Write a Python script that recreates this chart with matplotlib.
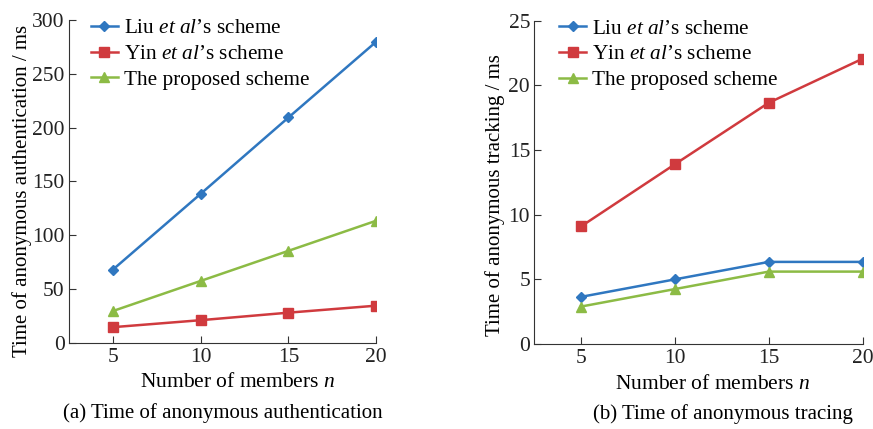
import numpy as np
import matplotlib.pyplot as plt

# Schrift wie im Original (Times-ähnlich)
plt.rcParams.update({'font.family': 'Liberation Serif', 'font.size': 15,
                     'mathtext.fontset': 'custom',
                     'mathtext.rm': 'Liberation Serif',
                     'mathtext.it': 'Liberation Serif:italic'})

# Daten
members = [5, 10, 15, 20]
labels = ["Liu $\\it{et\\ al}$’s scheme", "Yin $\\it{et\\ al}$’s scheme", "The proposed scheme"]

auth_liu = [68, 138.5, 209.5, 280]
auth_yin = [14.5, 21, 28, 34.5]
auth_prop = [29.5, 57.5, 85.5, 113.5]

trace_liu = [3.65, 5.0, 6.35, 6.35]
trace_yin = [9.1, 13.9, 18.65, 22.05]
trace_prop = [2.9, 4.25, 5.6, 5.6]

colors = ['#2f77c0', '#d03a3e', '#8cbb45']
markers = ['D', 's', '^']
msizes = [5, 7, 7]

fig = plt.figure(figsize=(8.73, 4.29), dpi=100)
ax1 = fig.add_axes([0.079, 0.201, 0.352, 0.752])
ax2 = fig.add_axes([0.612, 0.198, 0.376, 0.754])

def draw(ax, series, ylim, yticks, ylabel, caption, xlab_x, ylab_x, ylab_y, cap_x, leg_x):
    for s, c, m, ms, lab in zip(series, colors, markers, msizes, labels):
        ax.plot(members, s, color=c, marker=m, ms=ms, lw=1.8, label=lab)
    ax.set_xlim(2.5, 20)
    ax.set_ylim(*ylim)
    ax.set_xticks(members)
    ax.set_yticks(yticks)
    ax.spines['top'].set_visible(False)
    ax.spines['right'].set_visible(False)
    for sp in ax.spines.values():
        sp.set_color('#333333')
    ax.tick_params(direction='in', length=5, labelsize=15.5, colors='#333333',
                   labelcolor='#222222')
    ax.tick_params(axis='y', pad=3)
    ax.set_xlabel('Number of members $n$', fontsize=15.5)
    ax.xaxis.set_label_coords(xlab_x, -0.095)
    ax.set_ylabel(ylabel, fontsize=15)
    ax.yaxis.set_label_coords(ylab_x, ylab_y)
    ax.text(cap_x, -0.217, caption, transform=ax.transAxes, ha='center', va='center', fontsize=15)
    ax.legend(loc='upper left', bbox_to_anchor=(leg_x, 1.065), frameon=False,
              fontsize=15.3, handlelength=1.25, handletextpad=0.3, labelspacing=0.28)

draw(ax1, [auth_liu, auth_yin, auth_prop], (0, 300), range(0, 301, 50),
     'Time of anonymous authentication / ms', '(a) Time of anonymous authentication',
     0.55, -0.12, 0.47, 0.5, 0.01)
draw(ax2, [trace_liu, trace_yin, trace_prop], (0, 25), range(0, 26, 5),
     'Time of anonymous tracking / ms', '(b) Time of anonymous tracing',
     0.543, -0.088, 0.46, 0.576, 0.018)

fig.savefig('out.png', dpi=100)
